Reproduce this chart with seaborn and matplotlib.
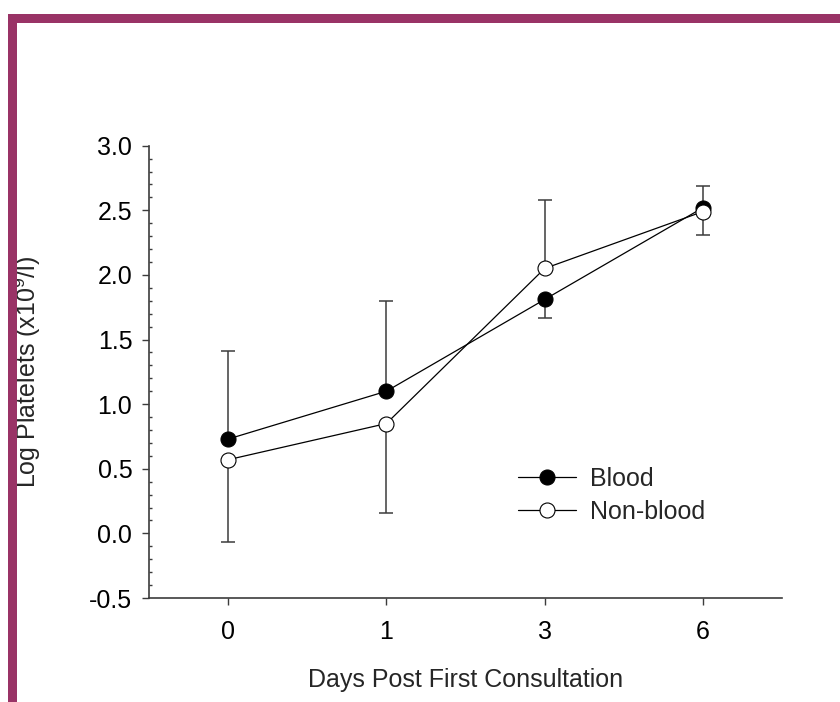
import numpy as np
import pandas as pd
import matplotlib
matplotlib.use("Agg")
import matplotlib.pyplot as plt
from matplotlib.patches import Rectangle
from matplotlib.lines import Line2D
from matplotlib.ticker import MultipleLocator
import seaborn as sns

# ---- data ----
days = ["0", "1", "3", "6"]
blood = [0.73, 1.10, 1.81, 2.52]
nonblood = [0.57, 0.85, 2.05, 2.49]
blood_err_low = [0.0, 0.0, 0.14, 0.0]
blood_err_up = [0.68, 0.70, 0.0, 0.17]
nonblood_err_low = [0.64, 0.69, 0.0, 0.18]
nonblood_err_up = [0.0, 0.0, 0.53, 0.0]
series_names = ["Blood", "Non-blood"]
x_label = "Days Post First Consultation"
y_label = r"Log Platelets (x10$^{9}$/l)"
y_ticks = [-0.5, 0.0, 0.5, 1.0, 1.5, 2.0, 2.5, 3.0]

sns.set_style("ticks")
plt.rcParams["font.family"] = ["Liberation Sans", "DejaVu Sans"]
plt.rcParams["mathtext.fontset"] = "custom"
plt.rcParams["mathtext.rm"] = "Liberation Sans"
plt.rcParams["mathtext.it"] = "Liberation Sans"

W, H = 840, 702
fig = plt.figure(figsize=(W / 100, H / 100), dpi=100)
ax = fig.add_axes([149 / W, 1 - 598 / H, (782 - 149) / W, (598 - 145.7) / H])

df = pd.DataFrame({"day": days * 2,
                   "value": blood + nonblood,
                   "group": [series_names[0]] * 4 + [series_names[1]] * 4})

xpos = np.arange(len(days))
ebc = "#3c3c3c"
ax.errorbar(xpos, blood, yerr=[blood_err_low, blood_err_up], fmt="none",
            ecolor=ebc, elinewidth=1.1, capsize=5, capthick=1.1, zorder=1)
ax.errorbar(xpos, nonblood, yerr=[nonblood_err_low, nonblood_err_up], fmt="none",
            ecolor=ebc, elinewidth=1.1, capsize=5, capthick=1.1, zorder=1)

ms = 10.8
sns.lineplot(data=df[df.group == series_names[0]], x="day", y="value", ax=ax,
             color="black", lw=0.9, marker="o", markersize=ms,
             markerfacecolor="black", markeredgecolor="black", markeredgewidth=0.8,
             legend=False, zorder=3)
sns.lineplot(data=df[df.group == series_names[1]], x="day", y="value", ax=ax,
             color="black", lw=0.9, marker="o", markersize=ms,
             markerfacecolor="white", markeredgecolor="black", markeredgewidth=0.8,
             legend=False, zorder=4)

ax.set_xlim(-0.5, 3.5)
ax.set_ylim(-0.5, 3.0)
ax.set_xticks(xpos)
ax.set_xticklabels(days)
ax.set_yticks(y_ticks)
ax.set_yticklabels([f"{v:.1f}" for v in y_ticks])
ax.yaxis.set_minor_locator(MultipleLocator(0.1))

spc = "#3c3c3c"
for s in ["top", "right"]:
    ax.spines[s].set_visible(False)
for s in ["left", "bottom"]:
    ax.spines[s].set_color(spc)
    ax.spines[s].set_linewidth(1.2)

ax.tick_params(axis="x", which="major", direction="out", length=5, width=1.0,
               color=spc, pad=11, labelsize=18, labelcolor="black")
ax.tick_params(axis="y", which="major", direction="out", length=5, width=1.0,
               color=spc, pad=7, labelsize=18, labelcolor="black")
ax.tick_params(axis="y", which="minor", direction="in", length=2, width=1.0, color=spc)
ax.tick_params(axis="x", which="minor", length=0)

ax.set_xlabel(x_label, fontsize=18)
ax.set_ylabel(y_label, fontsize=18)
ax.xaxis.set_label_coords(0.5, -0.155)
ax.yaxis.set_label_coords(-0.167, 0.5)

handles = [Line2D([], [], color="black", lw=0.9, marker="o", markersize=ms,
                  markerfacecolor="black", markeredgecolor="black", markeredgewidth=0.8),
           Line2D([], [], color="black", lw=0.9, marker="o", markersize=ms,
                  markerfacecolor="white", markeredgecolor="black", markeredgewidth=0.8)]
fig.legend(handles, series_names, loc="center left",
           bbox_to_anchor=(518 / W, 1 - 495.5 / H), bbox_transform=fig.transFigure,
           frameon=False, fontsize=18, handlelength=2.3, handletextpad=0.6,
           labelspacing=0.35, borderpad=0, borderaxespad=0, numpoints=1)

# magenta frame
mag = "#993366"
fig.patches.append(Rectangle((8 / W, 1 - 23 / H), (W - 8) / W, 9 / H,
                             transform=fig.transFigure, facecolor=mag, edgecolor="none"))
fig.patches.append(Rectangle((8 / W, 0), 9 / W, 1 - 14 / H,
                             transform=fig.transFigure, facecolor=mag, edgecolor="none"))

fig.savefig("out.png", dpi=100)
